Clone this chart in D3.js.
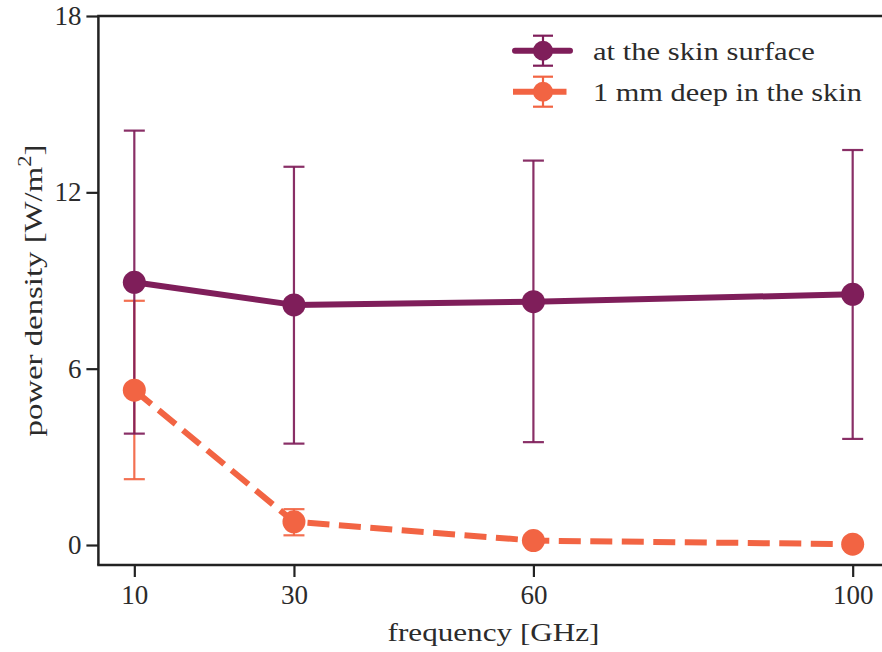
<!DOCTYPE html>
<html>
<head>
<meta charset="utf-8">
<script src="https://cdn.jsdelivr.net/npm/d3@7"></script>
<style>
  html, body { margin: 0; padding: 0; background: #fff; }
  svg { display: block; }
  text { font-family: "Liberation Serif", "DejaVu Serif", serif; fill: #2b2b2b; }
</style>
</head>
<body>
<svg id="chart" width="882" height="652"></svg>
<script>
// ---- data ----
const frequencies = [10, 30, 60, 100];
const surfaceMean = [8.94, 8.17, 8.28, 8.53];
const surfaceLow  = [3.79, 3.45, 3.50, 3.61];
const surfaceHigh = [14.10, 12.87, 13.08, 13.44];
const deepMean = [5.27, 0.79, 0.15, 0.03];
const deepLow  = [2.24, 0.33, 0.08, 0.00];
const deepHigh = [8.31, 1.22, 0.22, 0.06];
const yTicks = [0, 6, 12, 18];
const seriesNames = ["at the skin surface", "1 mm deep in the skin"];

const colSurface = "#7f1e5a";
const colDeep = "#f26443";

const svg = d3.select("#chart");
const L = 98.4, R = 888.6, T = 16, B = 565;

const x = d3.scaleLinear().domain([5.5, 104.5]).range([L, R]);
const y = d3.scaleLinear().domain([-0.68, 18]).range([B, T]);

// stretch a text horizontally (along its own direction) to a target width
function fit(sel, target, base) {
  const w = sel.node().getBBox().width;
  const sx = target / w;
  sel.attr("transform", (base || "") + ` scale(${sx},1)`);
}

// axes
const xAxis = d3.axisBottom(x).tickValues(frequencies).tickSize(12).tickPadding(8).tickFormat(d3.format("d"));
const yAxis = d3.axisLeft(y).tickValues(yTicks).tickSize(12).tickPadding(5).tickFormat(d3.format("d"));

const gx = svg.append("g").attr("transform", `translate(0,${B})`).call(xAxis);
const gy = svg.append("g").attr("transform", `translate(${L},0)`).call(yAxis);
[gx, gy].forEach(g => {
  g.select(".domain").remove();
  g.selectAll(".tick line").attr("stroke", "#222").attr("stroke-width", 2.2);
  g.selectAll(".tick text").attr("font-size", 27).attr("fill", "#2b2b2b")
    .style("font-family", '"Liberation Serif", serif');
});
// spines (left, bottom, top; right is cut off)
svg.append("line").attr("x1", L).attr("x2", L).attr("y1", T).attr("y2", B).attr("stroke", "#222").attr("stroke-width", 2.5);
svg.append("line").attr("x1", L - 1.2).attr("x2", R).attr("y1", B).attr("y2", B).attr("stroke", "#222").attr("stroke-width", 2.5);
svg.append("line").attr("x1", L - 1.2).attr("x2", R).attr("y1", T).attr("y2", T).attr("stroke", "#222").attr("stroke-width", 2.5);

// axis labels
const xl = svg.append("g").attr("transform", `translate(${(L + R) / 2},641)`);
const xlt = xl.append("text").attr("text-anchor", "middle").attr("font-size", 26).text("frequency [GHz]");
fit(xlt, 212);

const yl = svg.append("text").attr("text-anchor", "middle").attr("font-size", 26);
yl.append("tspan").text("power density [W/m");
yl.append("tspan").attr("font-size", 18).attr("dy", -11).text("2");
yl.append("tspan").attr("dy", 11).text("]");
fit(yl, 292, `translate(42,${(T + B) / 2}) rotate(-90)`);

// series drawing
function errbars(lows, highs, color) {
  const g = svg.append("g");
  frequencies.forEach((f, i) => {
    const cx = x(f);
    g.append("line").attr("x1", cx).attr("x2", cx).attr("y1", y(lows[i])).attr("y2", y(highs[i]))
      .attr("stroke", color).attr("stroke-width", 2.2).attr("opacity", 0.92);
    [lows[i], highs[i]].forEach(v => {
      g.append("line").attr("x1", cx - 10.5).attr("x2", cx + 10.5).attr("y1", y(v)).attr("y2", y(v))
        .attr("stroke", color).attr("stroke-width", 2.2).attr("opacity", 0.92);
    });
  });
}
function series(means, color, dashed) {
  const line = d3.line().x((d, i) => x(frequencies[i])).y(d => y(d));
  svg.append("path").datum(means).attr("d", line).attr("fill", "none")
    .attr("stroke", color).attr("stroke-width", 6)
    .attr("stroke-linecap", dashed ? "butt" : "round")
    .attr("stroke-linejoin", "round")
    .attr("stroke-dasharray", dashed ? "22,9.5" : null);
  svg.append("g").selectAll("circle").data(means).join("circle")
    .attr("cx", (d, i) => x(frequencies[i])).attr("cy", d => y(d)).attr("r", 11.5)
    .attr("fill", color);
}
errbars(deepLow, deepHigh, colDeep);
errbars(surfaceLow, surfaceHigh, colSurface);
series(surfaceMean, colSurface, false);
series(deepMean, colDeep, true);

// legend
const legend = svg.append("g");
const legendWidths = [222, 269];
[[seriesNames[0], colSurface, false, 50.7], [seriesNames[1], colDeep, true, 91.7]].forEach(([name, color, dashed, cy], k) => {
  const g = legend.append("g");
  if (dashed) {
    g.append("line").attr("x1", 513).attr("x2", 573).attr("y1", cy).attr("y2", cy)
      .attr("stroke", color).attr("stroke-width", 6).attr("stroke-dasharray", "22,9.5");
  } else {
    g.append("line").attr("x1", 515).attr("x2", 570).attr("y1", cy).attr("y2", cy)
      .attr("stroke", color).attr("stroke-width", 6).attr("stroke-linecap", "round");
  }
  g.append("line").attr("x1", 543).attr("x2", 543).attr("y1", cy - 15).attr("y2", cy + 15)
    .attr("stroke", color).attr("stroke-width", 2.2);
  [cy - 15, cy + 15].forEach(v => g.append("line").attr("x1", 533).attr("x2", 553).attr("y1", v).attr("y2", v)
    .attr("stroke", color).attr("stroke-width", 2.2));
  g.append("circle").attr("cx", 543).attr("cy", cy).attr("r", 10).attr("fill", color);
  const tg = g.append("g").attr("transform", `translate(593,${cy + 9})`);
  const t = tg.append("text").attr("font-size", 26).text(name);
  fit(t, legendWidths[k]);
});
</script>
</body>
</html>
